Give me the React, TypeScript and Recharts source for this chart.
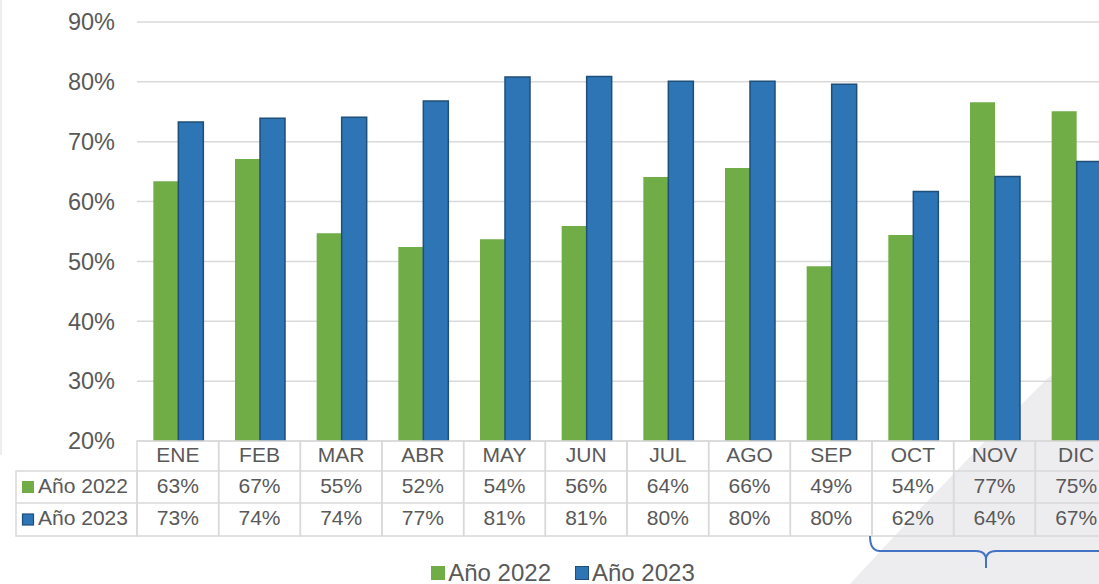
import React from 'react';
import { BarChart, Bar, XAxis, YAxis, CartesianGrid, Legend } from 'recharts';

const CATEGORIES = ['ENE', 'FEB', 'MAR', 'ABR', 'MAY', 'JUN', 'JUL', 'AGO', 'SEP', 'OCT', 'NOV', 'DIC'];
const SERIES_2022 = [63.4, 67.1, 54.7, 52.4, 53.7, 55.9, 64.1, 65.6, 49.2, 54.4, 76.6, 75.1];
const SERIES_2023 = [73.3, 73.9, 74.1, 76.8, 80.8, 80.9, 80.1, 80.1, 79.6, 61.7, 64.2, 66.7];
const Y_TICKS = [20, 30, 40, 50, 60, 70, 80, 90];
const SERIES_NAMES = ['Año 2022', 'Año 2023'];

const data = CATEGORIES.map((c, i) => ({ cat: c, a2022: SERIES_2022[i], a2023: SERIES_2023[i] }));

const FONT = '"Liberation Sans", Arial, sans-serif';
const TEXT = '#595959';
const GRID = '#D9D9D9';
const GREEN = '#70AD47';
const BLUE = '#2E75B6';
const BLUE_EDGE = '#1F4E79';

const CHART_W = 1130;
const CHART_H = 584;
const Y_W = 137;
const M_RIGHT = 13;
const BAND = (CHART_W - Y_W - M_RIGHT) / CATEGORIES.length;
const ROW1 = 30;
const ROW2 = 62;
const ROW3 = 95;
const LEG_LEFT = 16;
const TXT_DY = -2;

const pct = (v: number) => `${Math.round(v)}%`;

const TableTick = (props: any) => {
  const { x, y, payload, index } = props;
  const left = x - BAND / 2;
  const i = index ?? CATEGORIES.indexOf(payload.value);
  const tStyle = { fontFamily: FONT, fontSize: 21, fill: TEXT };
  return (
    <g>
      {i === 0 && (
        <g>
          <rect x={LEG_LEFT} y={y + ROW1} width={left - LEG_LEFT} height={ROW3 - ROW1} fill="none" stroke={GRID} strokeWidth={1.5} />
          <line x1={LEG_LEFT} x2={left} y1={y + ROW2} y2={y + ROW2} stroke={GRID} strokeWidth={1.5} />
          <rect x={LEG_LEFT + 6} y={y + (ROW1 + ROW2) / 2 - 6} width={12} height={12} fill={GREEN} />
          <rect x={LEG_LEFT + 6.5} y={y + (ROW2 + ROW3) / 2 - 5.5} width={11} height={11} fill={BLUE} stroke={BLUE_EDGE} strokeWidth={1.2} />
          <text x={LEG_LEFT + 22} y={y + (ROW1 + ROW2) / 2 + TXT_DY} dominantBaseline="central" {...tStyle}>{SERIES_NAMES[0]}</text>
          <text x={LEG_LEFT + 22} y={y + (ROW2 + ROW3) / 2 + TXT_DY} dominantBaseline="central" {...tStyle}>{SERIES_NAMES[1]}</text>
        </g>
      )}
      <rect x={left} y={y} width={BAND} height={ROW3} fill="none" stroke={GRID} strokeWidth={1.5} />
      <line x1={left} x2={left + BAND} y1={y + ROW1} y2={y + ROW1} stroke={GRID} strokeWidth={1.5} />
      <line x1={left} x2={left + BAND} y1={y + ROW2} y2={y + ROW2} stroke={GRID} strokeWidth={1.5} />
      <text x={x} y={y + ROW1 / 2 + TXT_DY} textAnchor="middle" dominantBaseline="central" {...tStyle}>{payload.value}</text>
      <text x={x} y={y + (ROW1 + ROW2) / 2 + TXT_DY} textAnchor="middle" dominantBaseline="central" {...tStyle}>{pct(SERIES_2022[i])}</text>
      <text x={x} y={y + (ROW2 + ROW3) / 2 + TXT_DY} textAnchor="middle" dominantBaseline="central" {...tStyle}>{pct(SERIES_2023[i])}</text>
    </g>
  );
};

const LegendContent = () => (
  <div style={{ height: 48, boxSizing: 'border-box', paddingTop: 25, paddingLeft: 9, display: 'flex', justifyContent: 'center', fontFamily: FONT, fontSize: 24, color: TEXT, lineHeight: '24px' }}>
    <span style={{ display: 'inline-flex', alignItems: 'center', marginRight: 24 }}>
      <span style={{ display: 'inline-block', width: 14, height: 14, background: GREEN, marginRight: 3 }} />
      {SERIES_NAMES[0]}
    </span>
    <span style={{ display: 'inline-flex', alignItems: 'center' }}>
      <span style={{ display: 'inline-block', width: 12, height: 12, background: BLUE, border: `1.5px solid ${BLUE_EDGE}`, marginRight: 3 }} />
      {SERIES_NAMES[1]}
    </span>
  </div>
);

export default function App() {
  return (
    <div style={{ position: 'fixed', left: 0, top: 0, width: 1099, height: 584, overflow: 'hidden', background: '#FFFFFF' }}>
      <svg width={1099} height={584} style={{ position: 'absolute', left: 0, top: 0 }}>
        <path d="M 850 584 Q 950 475 1048 378 Q 1072 360 1099 356 L 1099 584 Z" fill="#EDEDF0" />
        <line x1={1} x2={1} y1={0} y2={455} stroke="#EEEEEE" strokeWidth={2} />
      </svg>
      <div style={{ position: 'absolute', left: 0, top: 0 }}>
        <BarChart
          width={CHART_W}
          height={CHART_H}
          data={data}
          margin={{ top: 22, right: M_RIGHT, bottom: 0, left: 0 }}
          barCategoryGap="20%"
          barGap={0}
        >
          <CartesianGrid vertical={false} stroke={GRID} strokeWidth={1.5} />
          <YAxis
            type="number"
            domain={[20, 90]}
            ticks={Y_TICKS}
            width={Y_W}
            axisLine={false}
            tickLine={false}
            tickSize={0}
            tickMargin={22}
            tickFormatter={(v: number) => `${v}%`}
            tick={{ fontFamily: FONT, fontSize: 23.5, fill: TEXT }}
            allowDataOverflow
          />
          <XAxis
            dataKey="cat"
            height={ROW3}
            axisLine={false}
            tickLine={false}
            tickSize={0}
            tickMargin={0}
            interval={0}
            tick={<TableTick />}
          />
          <Legend verticalAlign="bottom" height={48} content={<LegendContent />} />
          <Bar dataKey="a2022" name={SERIES_NAMES[0]} fill={GREEN} isAnimationActive={false} />
          <Bar dataKey="a2023" name={SERIES_NAMES[1]} fill={BLUE} stroke={BLUE_EDGE} strokeWidth={1.5} isAnimationActive={false} />
        </BarChart>
      </div>
      <svg width={1099} height={584} style={{ position: 'absolute', left: 0, top: 0, pointerEvents: 'none' }}>
        <path d="M 870 536 Q 870 551 880 551 L 976 551 Q 986 551 986 560 L 986 568 M 986 560 Q 986 551 996 551 L 1110 551" fill="none" stroke="#4472C4" strokeWidth={2} />
      </svg>
    </div>
  );
}
